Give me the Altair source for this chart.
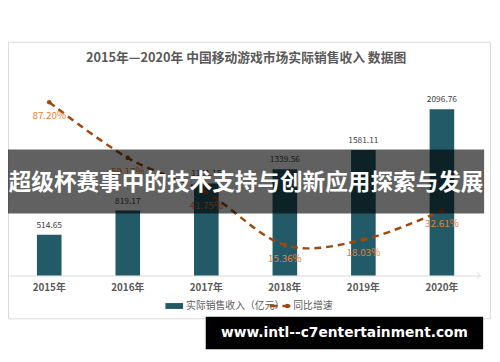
import altair as alt
import pandas as pd

years = ["2015年", "2016年", "2017年", "2018年", "2019年", "2020年"]
revenue = [514.65, 819.17, 1161.15, 1339.56, 1581.11, 2096.76]
growth = [87.20, 59.17, 41.75, 15.36, 18.03, 32.61]
revenue_labels = ["514.65", "819.17", "1161.15", "1339.56", "1581.11", "2096.76"]
growth_labels = ["87.20%", "59.17%", "41.75%", "15.36%", "18.03%", "32.61%"]

title_text = "2015年—2020年 中国移动游戏市场实际销售收入 数据图"
banner_text = "超级杯赛事中的技术支持与创新应用探索与发展"
watermark_text = "www.intl--c7entertainment.com"
legend_bar = "实际销售收入（亿元）"
legend_line = "同比增速"

df = pd.DataFrame({"year": years, "revenue": revenue, "growth": growth,
                   "rlabel": revenue_labels, "glabel": growth_labels})

FONT = "Noto Sans CJK SC"
W, H = 479, 200
BAR = "#235A67"
LINE = "#9E480E"
one = alt.Data(values=[{}])

x = alt.X("year:N", sort=years, scale=alt.Scale(paddingInner=0, paddingOuter=0),
          axis=alt.Axis(title=None, labelAngle=0, ticks=False, domainColor="#d9d9d9",
                        labelFont=FONT, labelFontSize=10, labelFontWeight="bold",
                        labelColor="#595959", labelPadding=7, grid=False))
yb = alt.Y("revenue:Q", scale=alt.Scale(domain=[0, 2480]), axis=None)
yl = alt.Y("growth:Q", scale=alt.Scale(domain=[0, 99]), axis=None)

base = alt.Chart(df)

frame = alt.Chart(one).mark_rect(fillOpacity=0, stroke="#d9d9d9", strokeWidth=1).encode(
    x=alt.value(-1.5), x2=alt.value(488.5), y=alt.value(-37), y2=alt.value(244))

title = alt.Chart(one).mark_text(text=title_text, font=FONT, fontSize=13, fontWeight="bold",
                                 color="#595959", baseline="middle").encode(
    x=alt.value(240), y=alt.value(-21))

bars = base.mark_bar(size=25, color=BAR).encode(x=x, y=yb)
bar_text = base.mark_text(dy=-10, fontSize=8.5, color="#404040", font=FONT,
                          baseline="middle").encode(x=x, y=yb, text="rlabel")
line = base.mark_line(interpolate="cardinal", strokeDash=[7, 5], strokeWidth=2.5,
                      color=LINE).encode(x=x, y=yl)
pts = base.mark_point(filled=True, size=22, color=LINE, opacity=1).encode(x=x, y=yl)
gtext = base.mark_text(dy=14, fontSize=10, color="#ED7D31", font=FONT,
                       baseline="middle").encode(x=x, y=yl, text="glabel")

arrow = alt.Chart(one).mark_point(shape="M-1,-1L0,0L-1,1", size=40, filled=False,
                                  stroke="#d9d9d9", strokeWidth=1, opacity=1).encode(
    x=alt.value(478), y=alt.value(200))

leg_rect = alt.Chart(one).mark_rect(color=BAR).encode(
    x=alt.value(158), x2=alt.value(176), y=alt.value(228), y2=alt.value(234))
leg_t1 = alt.Chart(one).mark_text(text=legend_bar, font=FONT, fontSize=10, color="#595959",
                                  align="left", baseline="middle").encode(
    x=alt.value(179), y=alt.value(231))
leg_rule = alt.Chart(one).mark_rule(color=LINE, strokeWidth=2.5, strokeDash=[8, 5]).encode(
    x=alt.value(264), x2=alt.value(287), y=alt.value(231))
leg_pt = alt.Chart(one).mark_point(filled=True, size=22, color=LINE, opacity=1).encode(
    x=alt.value(282), y=alt.value(231))
leg_t2 = alt.Chart(one).mark_text(text=legend_line, font=FONT, fontSize=10, color="#595959",
                                  align="left", baseline="middle").encode(
    x=alt.value(288), y=alt.value(231))

banner = alt.Chart(one).mark_rect(color="black", opacity=0.62).encode(
    x=alt.value(-2), x2=alt.value(482), y=alt.value(72), y2=alt.value(137))
banner_t = alt.Chart(one).mark_text(text=banner_text, font=FONT, fontSize=23, fontWeight="bold",
                                    color="white", baseline="middle").encode(
    x=alt.value(240), y=alt.value(106))

wm = alt.Chart(one).mark_rect(color="black").encode(
    x=alt.value(199), x2=alt.value(481), y=alt.value(242), y2=alt.value(275))
wm_t = alt.Chart(one).mark_text(text=watermark_text, font="DejaVu Sans", fontSize=14,
                                fontWeight="bold", color="white", baseline="middle").encode(
    x=alt.value(340), y=alt.value(259))

chart = alt.layer(
    frame, title, bars, bar_text, line, pts, gtext, arrow,
    leg_rect, leg_t1, leg_rule, leg_pt, leg_t2, banner, banner_t, wm, wm_t
).resolve_scale(y="independent").properties(
    width=W, height=H, autosize="none",
    padding={"left": 2, "top": 69, "right": 11, "bottom": 85},
    background="white"
).configure_view(stroke=None)

chart.save("out.html", embed_options={"renderer": "svg", "actions": False})
